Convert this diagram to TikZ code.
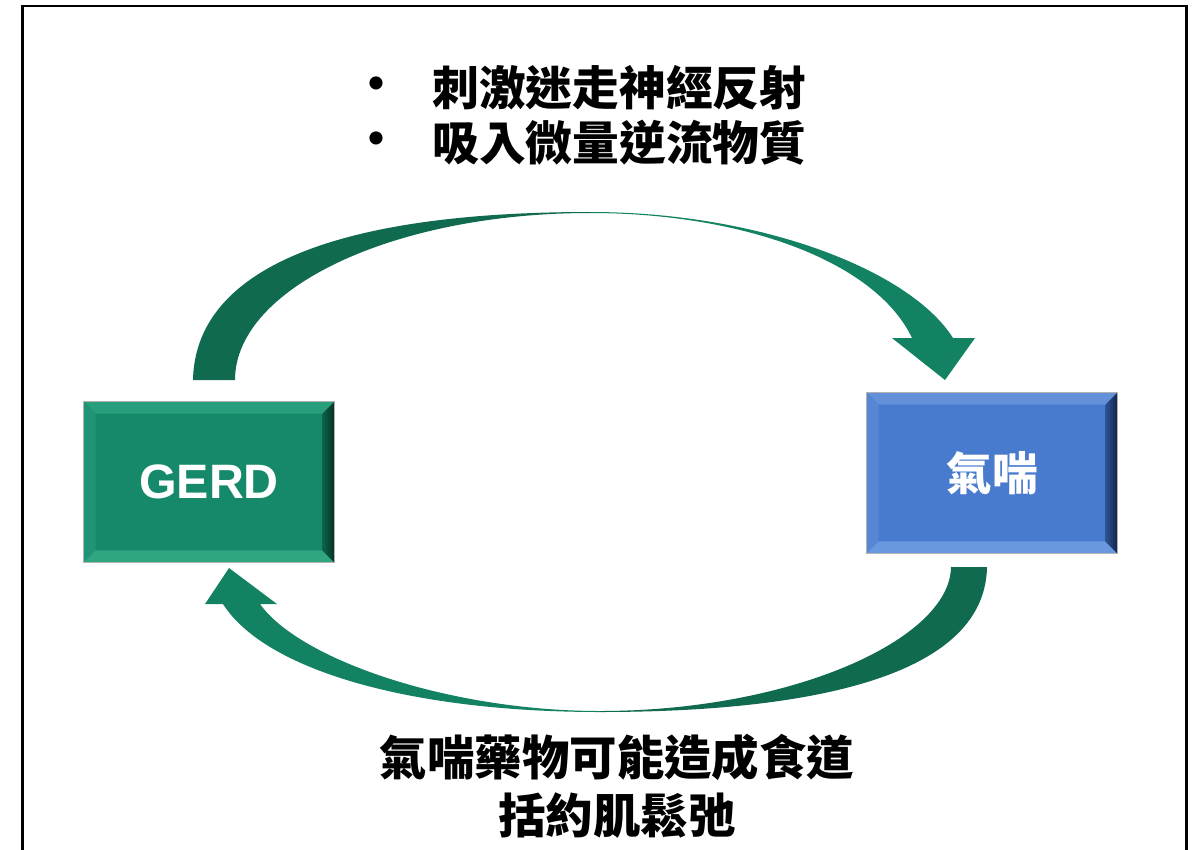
\documentclass[tikz,border=0pt]{standalone}
\usepackage{fontspec}
\setmainfont{Liberation Sans}
\newfontfamily\cjk{Noto Sans CJK TC}
\usetikzlibrary{calc}
\definecolor{gface}{RGB}{21,137,106}
\definecolor{gtop}{RGB}{40,158,124}
\definecolor{gleft}{RGB}{32,148,116}
\definecolor{grightA}{RGB}{14,100,76}
\definecolor{grightB}{RGB}{5,48,36}
\definecolor{gbot}{RGB}{48,165,130}
\definecolor{bface}{RGB}{72,122,205}
\definecolor{btop}{RGB}{98,145,218}
\definecolor{bleft}{RGB}{85,135,212}
\definecolor{brightA}{RGB}{45,85,150}
\definecolor{brightB}{RGB}{18,35,70}
\definecolor{bbot}{RGB}{105,152,222}
\definecolor{adark}{RGB}{16,106,80}
\definecolor{alight}{RGB}{18,130,99}
\tikzset{
  boxnode/.style={minimum width=5cm, minimum height=3.2cm, inner sep=0pt, draw=gray!60, line width=0.4pt},
  cjktxt/.style={font=\cjk\bfseries\fontsize{26.6pt}{33pt}\selectfont, inner sep=0pt},
  bullettxt/.style={font=\bfseries\fontsize{26pt}{30pt}\selectfont, inner sep=0pt},
  darkpart/.style={fill=adark, draw=none},
  lightpart/.style={fill=alight, draw=none},
  frame/.style={draw=black, line width=1.7pt}
}
\newcommand{\bevelit}[6]{%
  \fill[#2] (#1.north west) -- (#1.north east) -- ($(#1.north east)+(-12,12)$) -- ($(#1.north west)+(12,12)$) -- cycle;
  \fill[#3] (#1.north west) -- ($(#1.north west)+(12,12)$) -- ($(#1.south west)+(12,-12)$) -- (#1.south west) -- cycle;
  \fill[#4] (#1.south west) -- ($(#1.south west)+(12,-12)$) -- ($(#1.south east)+(-12,-12)$) -- (#1.south east) -- cycle;
  \shade[left color=#5, right color=#6] (#1.north east) -- (#1.south east) -- ($(#1.south east)+(-12,-12)$) -- ($(#1.north east)+(-12,12)$) -- cycle;
  \draw[gray!60, line width=0.4pt] (#1.north west) rectangle (#1.south east);
}
\begin{document}
\begin{tikzpicture}[x=0.02cm, y=-0.02cm]
\useasboundingbox (0,0) rectangle (1197,849);
\clip (0,0) rectangle (1197,849);
\fill[white] (0,0) rectangle (1197,849);
\draw[frame] (22.5,6) rectangle (1186.5,900);

% boxes
\node[boxnode, fill=gface, text=white, font=\bfseries\fontsize{27.5pt}{30pt}\selectfont] (gerd) at (209,482) {GERD};
\bevelit{gerd}{gtop}{gleft}{gbot}{grightA}{grightB}
\node[boxnode, fill=bface] (asthma) at (992,473) {};
\bevelit{asthma}{btop}{bleft}{bbot}{brightA}{brightB}
\node[cjktxt, text=white, font=\cjk\bfseries\fontsize{26pt}{30pt}\selectfont] (asthmatxt) at (asthma.center) {氣喘};

% top curved arrow
\path[darkpart] (193,380) .. controls (195,280) and (310,212) .. (590,212)
  -- (590,213) .. controls (394,213) and (235,288) .. (235,380) -- cycle;
\path[lightpart] (590,212) .. controls (760,212) and (910,270) .. (953,338)
  -- (975,338) -- (945,380) -- (892,338) -- (912,338)
  .. controls (875,260) and (740,213) .. (590,213) -- cycle;

% bottom curved arrow
\path[darkpart] (987,567) .. controls (985,680) and (800,712) .. (600,712)
  -- (600,711) .. controls (790,711) and (950,640) .. (951,567) -- cycle;
\path[lightpart] (600,712) .. controls (410,712) and (265,670) .. (223,604)
  -- (205,604) -- (229,568) -- (277,604) -- (260,604)
  .. controls (300,660) and (450,711) .. (600,711) -- cycle;

% top texts
\node[bullettxt] (d1) at (376,88) {•};
\node[bullettxt] (d2) at (376,143) {•};
\node[cjktxt, anchor=west] (t1) at (432,88) {刺激迷走神經反射};
\node[cjktxt, anchor=west] (t2) at (432,143) {吸入微量逆流物質};

% bottom text
\node[cjktxt, align=center, font=\cjk\bfseries\fontsize{27pt}{33pt}\selectfont] (bt) at (617,786) {氣喘藥物可能造成食道\\括約肌鬆弛};
\end{tikzpicture}
\end{document}
